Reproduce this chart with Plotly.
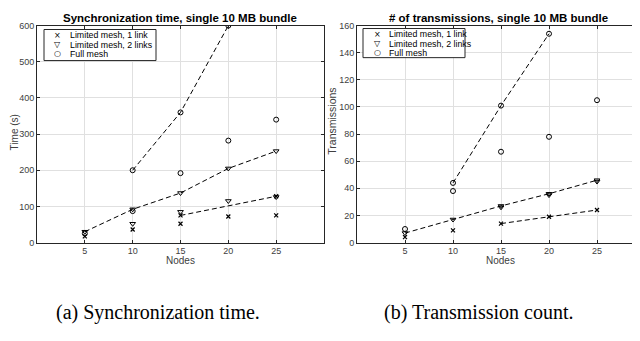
import plotly.graph_objects as go

# ---------------- data ----------------
node_ticks = [5, 10, 15, 20, 25]

# (a) Synchronization time (s)
time_1link_x = [5, 10, 15, 15, 20, 25, 25]
time_1link_y = [17, 36, 52, 75, 72, 75, 128]
time_2link_x = [5, 10, 10, 15, 15, 20, 20, 25, 25]
time_2link_y = [30, 92, 52, 137, 85, 205, 115, 253, 126]
time_full_x = [5, 10, 10, 15, 15, 20, 20, 25]
time_full_y = [25, 87, 200, 192, 360, 282, 600, 340]

time_fit_1link_x = [15, 20, 25]
time_fit_1link_y = [75, 101, 128]
time_fit_2link_x = [5, 10, 15, 20, 25]
time_fit_2link_y = [30, 92, 137, 205, 253]
time_fit_full_x = [10, 15, 20]
time_fit_full_y = [200, 360, 600]

# (b) Number of transmissions
tx_1link_x = [5, 10, 15, 20, 25]
tx_1link_y = [4, 9, 14, 19, 24]
tx_2link_x = [5, 10, 15, 15, 20, 20, 25, 25]
tx_2link_y = [7, 17, 27, 26, 36, 35, 46, 45]
tx_full_x = [5, 10, 10, 15, 15, 20, 20, 25]
tx_full_y = [10, 38, 44, 67, 101, 78, 154, 105]

tx_fit_1link_x = [15, 20, 25]
tx_fit_1link_y = [14, 19, 24]
tx_fit_2link_x = [5, 10, 15, 20, 25]
tx_fit_2link_y = [7, 17, 27, 36, 46]
tx_fit_full_x = [10, 15, 20]
tx_fit_full_y = [44, 101, 154]

series_names = ["Limited mesh, 1 link", "Limited mesh, 2 links", "Full mesh"]
legend_glyphs = ["\u00d7", "\u25bd", "\u25cb"]
# ---------------------------------------

W, H = 640, 341
OFF = 8  # page body margin of the generated html


def PX(x):
    return (x - OFF) / W


def PY(y):
    return 1 - (y - OFF) / H


FONT = "Liberation Sans, Arial, sans-serif"
SERIF = "Liberation Serif, Times New Roman, serif"
GRAY = "#404040"
marker_styles = [
    dict(symbol="x-thin-open", size=4, line=dict(color="black", width=1.2), color="black"),
    dict(symbol="triangle-down-open", size=5, line=dict(color="black", width=1), color="black"),
    dict(symbol="circle-open", size=5, line=dict(color="black", width=1), color="black"),
]

fig = go.Figure()


def add_panel(xa, ya, pts, fits):
    for (fx, fy) in fits:
        fig.add_trace(go.Scatter(x=fx, y=fy, mode="lines", xaxis=xa, yaxis=ya,
                                 line=dict(color="black", width=1, dash="5px,3px"),
                                 showlegend=False, hoverinfo="skip"))
    for name, (px, py), ms in zip(series_names, pts, marker_styles):
        fig.add_trace(go.Scatter(x=px, y=py, mode="markers", name=name, xaxis=xa, yaxis=ya,
                                 marker=ms, showlegend=False))


add_panel("x", "y",
          [(time_1link_x, time_1link_y), (time_2link_x, time_2link_y), (time_full_x, time_full_y)],
          [(time_fit_1link_x, time_fit_1link_y), (time_fit_2link_x, time_fit_2link_y),
           (time_fit_full_x, time_fit_full_y)])
add_panel("x2", "y2",
          [(tx_1link_x, tx_1link_y), (tx_2link_x, tx_2link_y), (tx_full_x, tx_full_y)],
          [(tx_fit_1link_x, tx_fit_1link_y), (tx_fit_2link_x, tx_fit_2link_y),
           (tx_fit_full_x, tx_fit_full_y)])

ydom = [PY(244.5), PY(21)]
axis_common = dict(showline=True, linecolor="#262626", linewidth=1, mirror="ticks",
                   ticks="inside", ticklen=3, tickcolor="#262626",
                   showgrid=True, gridcolor="#e0e0e0", gridwidth=1, zeroline=False,
                   tickfont=dict(family=FONT, size=9, color=GRAY))

fig.update_layout(
    width=W, height=H, margin=dict(l=0, r=0, t=0, b=0),
    paper_bgcolor="white", plot_bgcolor="white",
    font=dict(family=FONT, color="black"),
    xaxis=dict(domain=[PX(37), PX(324)], range=[0, 30], tickvals=node_ticks, anchor="y", **axis_common),
    yaxis=dict(domain=ydom, range=[0, 600], dtick=100, anchor="x", **axis_common),
    xaxis2=dict(domain=[PX(357), min(1.0, PX(645))], range=[0, 30], tickvals=node_ticks, anchor="y2",
                **axis_common),
    yaxis2=dict(domain=ydom, range=[0, 160], dtick=20, anchor="x2", **axis_common),
    showlegend=False,
)

ann = []
shapes = []


def text(t, x, y, size, color="black", family=FONT, angle=0, xa="center", ya="middle"):
    ann.append(dict(text=t, x=PX(x), y=PY(y), xref="paper", yref="paper", showarrow=False,
                    xanchor=xa, yanchor=ya, textangle=angle,
                    font=dict(family=family, size=size, color=color)))


text("<b>Synchronization time, single 10 MB bundle</b>", 180, 13, 11.5)
text("<b># of transmissions, single 10 MB bundle</b>", 498, 13, 11.5)
text("Nodes", 180, 263, 10, GRAY)
text("Nodes", 500, 263, 10, GRAY)
text("Time (s)", 14, 131, 10, GRAY, angle=-90)
text("Transmissions", 332, 120, 10.5, GRAY, angle=-90)
text("(a) Synchronization time.", 158, 317, 20, family=SERIF)
text("(b) Transmission count.", 478, 317, 20, family=SERIF)

# legend boxes (one per panel)
legend_boxes = [
    dict(x0=44, x1=156, y0=25, y1=57, mark_x=57, text_x=68, rows=[31, 40.5, 50]),
    dict(x0=363, x1=465, y0=24, y1=54, mark_x=377, text_x=387, rows=[30, 39.5, 49]),
]
for lb in legend_boxes:
    shapes.append(dict(type="rect", xref="paper", yref="paper",
                       x0=PX(lb["x0"]), x1=PX(lb["x1"]), y0=PY(lb["y1"]), y1=PY(lb["y0"]),
                       line=dict(color="#262626", width=1), fillcolor="white", layer="above"))
    for name, glyph, ry in zip(series_names, legend_glyphs, lb["rows"]):
        text(glyph, lb["mark_x"], ry, 8, "black", family="DejaVu Sans")
        text(name, lb["text_x"], ry, 8.8, "black", xa="left")

fig.update_layout(annotations=ann, shapes=shapes)

fig.write_html("out.html")
